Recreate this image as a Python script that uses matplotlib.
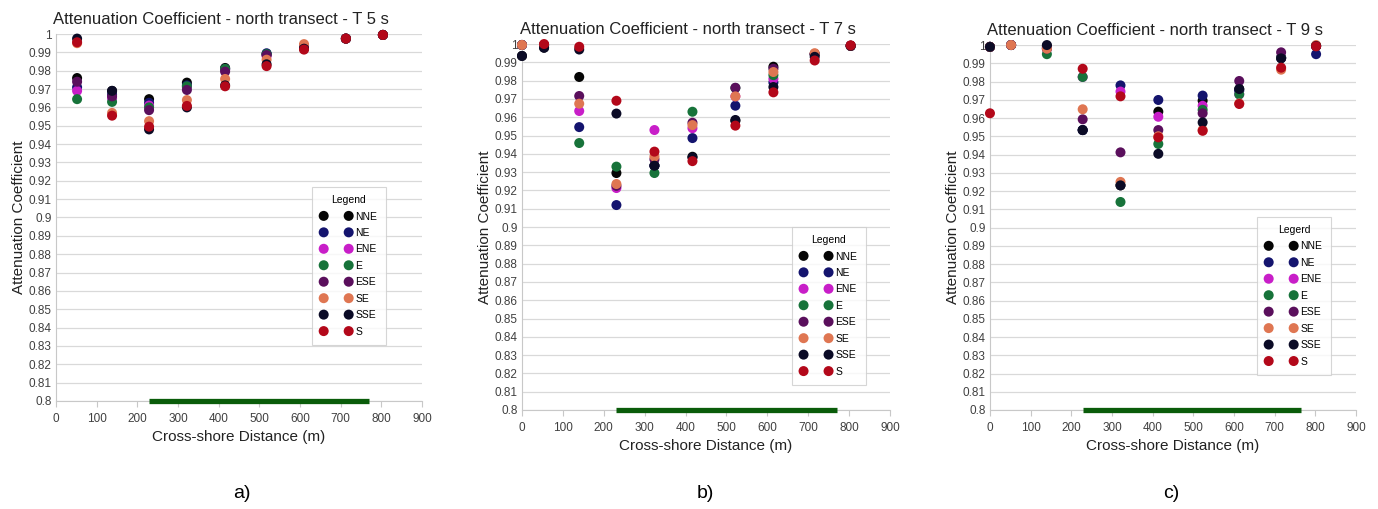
import numpy as np
import matplotlib
matplotlib.use("Agg")
import matplotlib.pyplot as plt

plt.rcParams['font.family'] = ['Liberation Sans', 'DejaVu Sans']

directions = ["NNE", "NE", "ENE", "E", "ESE", "SE", "SSE", "S"]
colors = ["#050505", "#14146e", "#c81ec8", "#17733a", "#5a0f5c", "#df7652", "#0b0b26", "#b3081a"]

nan = np.nan

# panel a) T 5 s
x_t5 = [52, 138, 229, 322, 416, 518, 610, 713, 804]
t5_vals = [
    [0.976, 0.969, 0.9645, 0.9735, 0.9815, 0.989, 0.9935, 0.9975, 0.9995],   # NNE
    [0.971, 0.967, 0.9625, 0.972, 0.981, 0.9895, 0.9935, 0.9975, 0.9995],    # NE
    [0.969, 0.965, 0.961, 0.971, 0.9805, 0.988, 0.9935, 0.9975, 0.9995],     # ENE
    [0.9645, 0.963, 0.960, 0.9715, 0.981, 0.989, 0.9935, 0.9975, 0.9995],    # E
    [0.974, 0.966, 0.9585, 0.9695, 0.9795, 0.9885, 0.9935, 0.9975, 0.9995],  # ESE
    [0.995, 0.957, 0.9525, 0.964, 0.9755, 0.986, 0.9945, 0.9975, 0.9995],    # SE
    [0.9975, 0.969, 0.948, 0.960, 0.972, 0.9835, 0.992, 0.9975, 0.9995],     # SSE
    [0.9955, 0.9555, 0.9495, 0.9608, 0.9715, 0.9825, 0.9915, 0.9975, 0.9995],  # S
]

# panel b) T 7 s
x_t7 = [0, 54, 140, 231, 324, 417, 522, 615, 716, 804]
t7_vals = [
    [0.9935, 0.998, 0.982, 0.9295, 0.9335, 0.9384, 0.958, 0.9876, 0.9945, 0.999],   # NNE
    [0.9995, 0.9995, 0.9546, 0.912, 0.9335, 0.9486, 0.9663, 0.979, 0.9945, 0.999],  # NE
    [0.9995, 0.9995, 0.9634, 0.9213, 0.953, 0.954, 0.9714, 0.981, 0.9945, 0.999],   # ENE
    [0.9995, 0.9995, 0.9459, 0.933, 0.9295, 0.963, 0.976, 0.983, 0.9945, 0.999],    # E
    [0.9995, 0.9995, 0.9716, 0.9225, 0.937, 0.957, 0.9761, 0.9865, 0.9945, 0.999],  # ESE
    [0.9995, 0.9995, 0.9674, 0.9235, 0.9385, 0.9557, 0.9714, 0.9847, 0.995, 0.999], # SE
    [0.9935, 0.998, 0.997, 0.962, 0.9335, 0.938, 0.9585, 0.9765, 0.993, 0.999],     # SSE
    [nan, 1.0, 0.9985, 0.969, 0.9412, 0.936, 0.9554, 0.9736, 0.991, 0.9993],        # S
]

# panel c) T 9 s
x_t9 = [0, 52, 140, 228, 321, 414, 523, 613, 716, 802]
t9_vals = [
    [0.999, 1.0, 0.9995, 0.9534, 0.9231, 0.9635, 0.9695, 0.9759, 0.993, 0.9995],  # NNE
    [0.999, 1.0, 0.9985, 0.9534, 0.9779, 0.9699, 0.9723, 0.975, 0.993, 0.995],    # NE
    [0.999, 1.0, 0.998, 0.9825, 0.9745, 0.9607, 0.9667, 0.973, 0.993, 0.9995],    # ENE
    [0.999, 1.0, 0.995, 0.9825, 0.914, 0.9458, 0.9645, 0.973, 0.993, 0.9995],     # E
    [0.999, 1.0, 0.998, 0.9593, 0.9412, 0.9534, 0.9626, 0.9803, 0.996, 0.9995],   # ESE
    [0.999, 1.0, 0.998, 0.9648, 0.925, 0.950, 0.9535, 0.968, 0.9865, 1.0],        # SE
    [0.999, nan, 1.0, 0.9534, 0.9231, 0.9404, 0.9576, 0.9759, 0.9927, 0.9995],    # SSE
    [0.9626, nan, nan, 0.987, 0.9719, 0.9494, 0.953, 0.9677, 0.9876, 0.9993],     # S
]

titles = ["Attenuation Coefficient - north transect - T 5 s",
          "Attenuation Coefficient - north transect - T 7 s",
          "Attenuation Coefficient - north transect - T 9 s"]
legend_titles = ["Legend", "Legend", "Legerd"]
panel_labels = ["a)", "b)", "c)"]
bar_ranges = [(230, 770), (230, 770), (230, 765)]

fig = plt.figure(figsize=(13.78, 5.09), dpi=100)
axes_rects = [
    [0.0406, 0.2122, 0.2656, 0.7210],
    [0.3788, 0.1945, 0.2670, 0.7190],
    [0.7184, 0.1945, 0.2656, 0.7170],
]
legend_boxes = [
    (0.686, 0.598),
    (0.720, 0.515),
    (0.716, 0.544),
]
label_x = [242, 705, 1171]

panels = [(x_t5, t5_vals), (x_t7, t7_vals), (x_t9, t9_vals)]

for i, (xs, vals) in enumerate(panels):
    ax = fig.add_axes(axes_rects[i])
    for d, c, v in zip(directions, colors, vals):
        ax.scatter(xs, v, s=52, color=c, edgecolors="none", label=d, zorder=3, clip_on=False)

    ax.plot(bar_ranges[i], [0.8, 0.8], color="#0a5c0a", lw=3.8, solid_capstyle="butt",
            zorder=4, clip_on=False)

    ax.set_xlim(0, 900)
    ax.set_ylim(0.8, 1.0)
    ax.set_xticks(np.arange(0, 901, 100))
    yt = np.round(np.arange(0.8, 1.0001, 0.01), 2)
    ax.set_yticks(yt)
    ax.set_yticklabels([f"{v:g}" for v in yt])
    ax.grid(axis="y", color="#d9d9d9", lw=0.9)
    ax.set_axisbelow(True)
    for s in ["top", "right"]:
        ax.spines[s].set_visible(False)
    for s in ["left", "bottom"]:
        ax.spines[s].set_color("#c8c8c8")
    ax.tick_params(axis="x", colors="#c8c8c8", labelcolor="#404040", labelsize=8.5,
                   length=4, direction="out", pad=5)
    ax.tick_params(axis="y", length=0, labelcolor="#404040", labelsize=8.5, pad=3)

    ax.set_title(titles[i], fontsize=12, x=0.45, pad=7, color="#222222")
    ax.set_xlabel("Cross-shore Distance (m)", fontsize=11, color="#222222", labelpad=3)
    ax.set_ylabel("Attenuation Coefficient", fontsize=11, color="#222222", labelpad=2)

    leg = ax.legend(title=legend_titles[i], loc="upper left", bbox_to_anchor=legend_boxes[i],
                    scatterpoints=2, scatteryoffsets=[0.5], fontsize=7.5, title_fontsize=7.5,
                    frameon=True, fancybox=False, edgecolor="#cccccc", handlelength=3.0,
                    handletextpad=0.35, labelspacing=0.62, borderpad=0.8)
    leg.get_frame().set_linewidth(0.8)

    fig.text(label_x[i] / 1378, 1 - 494 / 509, panel_labels[i], fontsize=14,
             ha="center", va="center")

fig.savefig("out.png", dpi=100)
